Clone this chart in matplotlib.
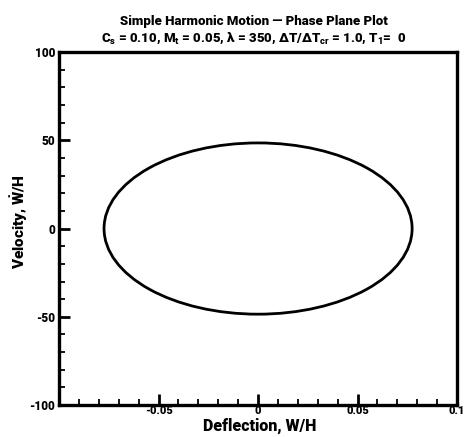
import matplotlib
matplotlib.use("Agg")
import matplotlib.pyplot as plt
from matplotlib.patches import Ellipse
from matplotlib.ticker import MultipleLocator

FONT = ['Roboto', 'DejaVu Sans']
plt.rcParams['font.family'] = FONT
plt.rcParams['font.weight'] = 900
plt.rcParams['mathtext.fontset'] = 'custom'
plt.rcParams['mathtext.rm'] = 'Roboto:black'
plt.rcParams['mathtext.it'] = 'Roboto:black'
plt.rcParams['mathtext.bf'] = 'Roboto:black'

# data
deflection_center = 0.0
velocity_center = 0.0
deflection_amplitude = 0.0774
velocity_amplitude = 48.5
x_ticks = [-0.1, -0.05, 0, 0.05, 0.1]
x_tick_labels = ["", "-0.05", "0", "0.05", "0.1"]
y_ticks = [-100, -50, 0, 50, 100]
y_tick_labels = ["-100", "-50", "0", "50", "100"]

title_line1 = "Simple Harmonic Motion \u2014 Phase Plane Plot"
title_line2 = (r"C$_s$ = 0.10, M$_t$ = 0.05, $\lambda$ = 350, "
               r"$\Delta$T/$\Delta$T$_{cr}$ = 1.0, T$_1$=  0")

fig = plt.figure(figsize=(4.65, 4.37), dpi=100)
ax = fig.add_axes([0.127, 0.073, 0.856, 0.808])

ell = Ellipse((deflection_center, velocity_center),
              width=2 * deflection_amplitude, height=2 * velocity_amplitude,
              fill=False, edgecolor='black', linewidth=2.0)
ax.add_patch(ell)

ax.set_xlim(-0.1, 0.1)
ax.set_ylim(-100, 100)
ax.set_xticks(x_ticks)
ax.set_xticklabels(x_tick_labels)
ax.set_yticks(y_ticks)
ax.set_yticklabels(y_tick_labels)
ax.xaxis.set_minor_locator(MultipleLocator(0.01))
ax.yaxis.set_minor_locator(MultipleLocator(10))

ax.tick_params(which='major', direction='in', length=8, width=2,
               labelsize=8.5, top=False, right=False, pad=3)
ax.tick_params(axis='x', which='major', pad=1, labelsize=8)
ax.tick_params(which='minor', direction='in', length=4, width=1.3,
               top=False, right=False)
for lab in ax.get_xticklabels() + ax.get_yticklabels():
    lab.set_fontweight(900)

for sp in ax.spines.values():
    sp.set_linewidth(2.4)

ax.set_xlabel("Deflection, W/H", fontsize=11.5, fontweight=900)
ax.xaxis.set_label_coords(0.505, -0.036)
ax.set_ylabel(r"Velocity, $\dot{\rm W}$/H", fontsize=11, fontweight=900)
ax.yaxis.set_label_coords(-0.073, 0.52)

fig.text(0.546, 1 - 22 / 437, title_line1, ha='center', va='center',
         fontsize=9.5, fontweight=900)
fig.text(0.546, 1 - 38 / 437, title_line2, ha='center', va='center',
         fontsize=9.5, fontweight=900)

fig.savefig("out.png", dpi=100)
